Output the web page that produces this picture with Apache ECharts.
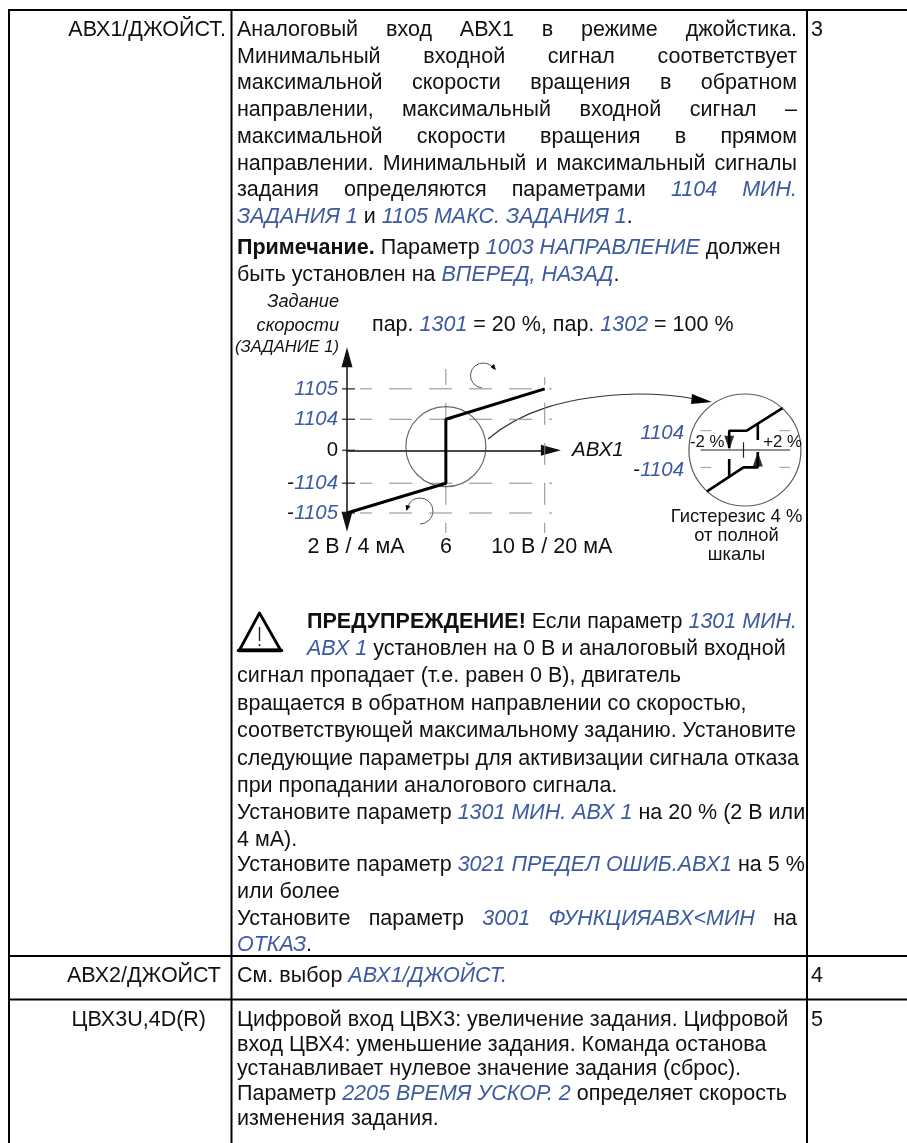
<!DOCTYPE html>
<html lang="ru">
<head>
<meta charset="UTF-8">
<title>АВХ1/ДЖОЙСТ.</title>
<script src="https://cdn.jsdelivr.net/npm/echarts@6/dist/echarts.min.js"></script>
<style>html,body{margin:0;padding:0;background:#fff}</style>
</head>
<body>
<div id="main" style="width:907px;height:1143px"></div>
<script>
// main diagram values
var levelValues = [99, 50, 0, -53, -101];
var levelLabels = ['{b|1105}', '{b|1104}', '0', '-{b|1104}', '-{b|1105}'];
var xTickValues = [2, 6, 10];
var xTickLabels = ['{a|2 В / 4 мА}', '6', '{c|10 В / 20 мА}'];
var refLine = [[2, -101], [6, -53], [6, 50], [10, 99]];
var guideX = [[2.53, 10.7]];
var guideY6 = [-133, 131];
var guideY10 = [-133, 118];
var zoomCircle = [[6, 5.8]];

// inset (hysteresis) values, x in %, y on the inset's own scale
var insetLabels = ['{b|1104}', '-{b|1104}'];
var insetLabelValues = [44, -52];
var upperBranch = [[5.5, 109], [0.45, 50], [-2, 50], [-2, 5]];
var lowerBranch = [[-5.15, -108], [0, -45], [2, -45], [2, -5]];
var downStub = [[-2, -23], [-2, -70]];
var upStub = [[2, 70], [2, 26]];
var insetAxis = [[-6, 0], [6.5, 0]];
var insetTick = [[0, 20], [0, -20]];
var insetGuides = [[[-6, 50], [-4.5, 50]], [[5, 50], [6.5, 50]], [[-6, -45], [-4.5, -45]], [[5, -45], [6.5, -45]]];
var insetArrowDown = [[-2, 19]];
var insetArrowUp = [[2, -23]];
var insetCircle = [[0.2, 0]];

// table text; _x_ is a blue italic reference, ^x^ is bold
var col1 = [
  ['АВХ1/ДЖОЙСТ.', 226, 30],
  ['АВХ2/ДЖОЙСТ', 221, 976],
  ['ЦВХ3U,4D(R)', 206, 1020]
];
var col3 = [['3', 30], ['4', 976], ['5', 1020]];
var bodyLines = [
  ['Аналоговый вход АВХ1 в режиме джойстика.', 30, 1],
  ['Минимальный входной сигнал соответствует', 57, 1],
  ['максимальной скорости вращения в обратном', 83, 1],
  ['направлении, максимальный входной сигнал –', 110, 1],
  ['максимальной скорости вращения в прямом', 137, 1],
  ['направлении. Минимальный и максимальный сигналы', 164, 1],
  ['задания определяются параметрами _1104 МИН._', 190, 1],
  ['_ЗАДАНИЯ 1_ и _1105 МАКС. ЗАДАНИЯ 1_.', 217, 0],
  ['^Примечание.^ Параметр _1003 НАПРАВЛЕНИЕ_ должен', 248, 0],
  ['быть установлен на _ВПЕРЕД, НАЗАД_.', 275, 0],
  ['сигнал пропадает (т.е. равен 0 В), двигатель', 676, 0],
  ['вращается в обратном направлении со скоростью,', 704, 0],
  ['соответствующей максимальному заданию. Установите', 731, 0],
  ['следующие параметры для активизации сигнала отказа', 759, 0],
  ['при пропадании аналогового сигнала.', 786, 0],
  ['Установите параметр _1301 МИН. АВХ 1_ на 20 % (2 В или', 813, 0],
  ['4 мА).', 840, 0],
  ['Установите параметр _3021 ПРЕДЕЛ ОШИБ.АВХ1_ на 5 %', 865, 0],
  ['или более', 892, 0],
  ['Установите параметр _3001 ФУНКЦИЯАВХ<МИН_ на', 919, 1],
  ['_ОТКАЗ_.', 945, 0],
  ['См. выбор _АВХ1/ДЖОЙСТ._', 976, 0],
  ['Цифровой вход ЦВХ3: увеличение задания. Цифровой', 1020, 0],
  ['вход ЦВХ4: уменьшение задания. Команда останова', 1045, 0],
  ['устанавливает нулевое значение задания (сброс).', 1069, 0],
  ['Параметр _2205 ВРЕМЯ УСКОР. 2_ определяет скорость', 1094, 0],
  ['изменения задания.', 1119, 0]
];
var warnLines = [
  ['^ПРЕДУПРЕЖДЕНИЕ!^ Если параметр _1301 МИН._', 622],
  ['_АВХ 1_ установлен на 0 В и аналоговый входной', 649]
];

var FAMILY = '"Liberation Sans", Arial, sans-serif';
var BLUE = '#3c5a9f';
var INK = '#111';
var SIZE = 21.5;
var ctx = document.createElement('canvas').getContext('2d');
var gfx = [];

function fontOf(kind, size) {
  var pre = kind === 'i' ? 'italic ' : kind === 'b' ? 'bold ' : '';
  return pre + size + 'px ' + FAMILY;
}
function addText(text, x, y, font, fill, align) {
  gfx.push({type: 'text', silent: true, z: 5, style: {
    text: text, x: x, y: y + 0.5, font: font, fill: fill || INK,
    textAlign: align || 'left', textVerticalAlign: 'middle'
  }});
}
// split the markup into words, then place them (stretched if right is given)
function addLine(str, x, y, right) {
  var kind = 'n', words = [], buf = '', glue = false;
  function flush() {
    if (buf) { words.push({t: buf, k: kind, glue: glue}); glue = true; buf = ''; }
  }
  for (var i = 0; i < str.length; i++) {
    var c = str[i];
    if (c === '_') { flush(); kind = kind === 'i' ? 'n' : 'i'; }
    else if (c === '^') { flush(); kind = kind === 'b' ? 'n' : 'b'; }
    else if (c === ' ') { flush(); glue = false; }
    else buf += c;
  }
  flush();
  var sum = 0, gaps = 0;
  words.forEach(function (w, i) {
    ctx.font = fontOf(w.k, SIZE);
    w.w = ctx.measureText(w.t).width;
    sum += w.w;
    if (i && !w.glue) gaps++;
  });
  ctx.font = fontOf('n', SIZE);
  var gap = right ? (right - x - sum) / gaps : ctx.measureText(' ').width;
  var px = x;
  words.forEach(function (w, i) {
    if (i && !w.glue) px += gap;
    addText(w.t, px, y, fontOf(w.k, SIZE), w.k === 'i' ? BLUE : INK);
    px += w.w;
  });
}
function rule(x1, y1, x2, y2) {
  gfx.push({type: 'line', silent: true, z: 1, shape: {x1: x1, y1: y1, x2: x2, y2: y2},
    style: {stroke: '#000', lineWidth: 2}});
}
function deg(a) { return a * Math.PI / 180; }

// table frame
rule(8, 10, 907, 10);
rule(8, 956, 907, 956);
rule(8, 999.5, 907, 999.5);
rule(9, 9, 9, 1143);
rule(231.5, 9, 231.5, 1143);
rule(807, 9, 807, 1143);

col1.forEach(function (r) { addText(r[0], r[1], r[2], fontOf('n', SIZE), INK, 'right'); });
col3.forEach(function (r) { addText(r[0], 811, r[1], fontOf('n', SIZE)); });
bodyLines.forEach(function (l) { addLine(l[0], 237, l[1], l[2] ? 797 : null); });
warnLines.forEach(function (l) { addLine(l[0], 307, l[1], null); });

// diagram captions
addText('Задание', 339, 301, fontOf('i', 18.2), INK, 'right');
addText('скорости', 339, 325, fontOf('i', 18.2), INK, 'right');
addText('(ЗАДАНИЕ 1)', 339, 347, fontOf('i', 16.6), INK, 'right');
addLine('пар. _1301_ = 20 %, пар. _1302_ = 100 %', 372, 325, null);
addText('АВХ1', 572, 450, fontOf('i', 20.5), INK);
addText('-2 %', 690, 442, fontOf('n', 16.8));
addText('+2 %', 802, 442, fontOf('n', 16.8), INK, 'right');
addText('Гистерезис 4 %', 736.5, 516, fontOf('n', 18.4), INK, 'center');
addText('от полной', 736.5, 535, fontOf('n', 18.4), INK, 'center');
addText('шкалы', 736.5, 554, fontOf('n', 18.4), INK, 'center');

// curved pointer and the two rotation arrows
gfx.push({type: 'bezierCurve', silent: true, z: 3,
  shape: {x1: 488, y1: 439, cpx1: 520, cpy1: 412, cpx2: 565, cpy2: 396, x2: 637, y2: 394},
  style: {fill: 'none', stroke: '#333', lineWidth: 1.2}});
gfx.push({type: 'bezierCurve', silent: true, z: 3,
  shape: {x1: 637, y1: 394, cpx1: 660, cpy1: 394, cpx2: 680, cpy2: 396, x2: 695, y2: 399},
  style: {fill: 'none', stroke: '#333', lineWidth: 1.2}});
gfx.push({type: 'polygon', silent: true, z: 3, shape: {points: [[712, 402], [692, 394], [691, 404]]}, style: {fill: '#000'}});
gfx.push({type: 'arc', silent: true, z: 3,
  shape: {cx: 483, cy: 375.5, r: 12.5, startAngle: deg(96), endAngle: deg(332), clockwise: true},
  style: {fill: 'none', stroke: '#555', lineWidth: 1}});
gfx.push({type: 'polygon', silent: true, z: 3, shape: {points: [[496, 370], [490.5, 367], [494, 364]]}, style: {fill: '#000'}});
gfx.push({type: 'arc', silent: true, z: 3,
  shape: {cx: 420, cy: 511, r: 13, startAngle: deg(90), endAngle: deg(-157), clockwise: false},
  style: {fill: 'none', stroke: '#555', lineWidth: 1}});
gfx.push({type: 'polygon', silent: true, z: 3, shape: {points: [[406.5, 511], [405.5, 505], [410.5, 506]]}, style: {fill: '#000'}});

// warning sign
gfx.push({type: 'polygon', silent: true, z: 3, shape: {points: [[259.5, 613], [239.5, 650], [280.5, 650]]},
  style: {fill: 'none', stroke: '#000', lineWidth: 2.8, lineJoin: 'round'}});
gfx.push({type: 'line', silent: true, z: 3, shape: {x1: 238.5, y1: 650.5, x2: 281.5, y2: 650.5}, style: {stroke: '#000', lineWidth: 3.6, lineCap: 'round'}});
gfx.push({type: 'line', silent: true, z: 3, shape: {x1: 259.5, y1: 627, x2: 259.5, y2: 641}, style: {stroke: '#222', lineWidth: 1.4}});
gfx.push({type: 'line', silent: true, z: 3, shape: {x1: 259.5, y1: 644, x2: 259.5, y2: 646}, style: {stroke: '#222', lineWidth: 1.6}});

function lineSeries(data, width, color, extra, inset) {
  var s = {type: 'line', data: data, symbol: 'none', clip: false, silent: true,
    lineStyle: {width: width, color: color}, z: 3};
  if (inset) { s.xAxisIndex = 2; s.yAxisIndex = 1; }
  if (extra) Object.keys(extra).forEach(function (k) { s.lineStyle[k] = extra[k]; });
  return s;
}
var DASH = {type: [23, 17], dashOffset: 11};
var VDASH = {type: [22, 18], dashOffset: 12};
var series = [];
levelValues.forEach(function (v) {
  if (v !== 0) series.push(lineSeries([[guideX[0][0], v], [guideX[0][1], v]], 1, '#8a8a8a', DASH));
});
series.push(lineSeries([[6, guideY6[0]], [6, guideY6[1]]], 1, '#8a8a8a', VDASH));
series.push(lineSeries([[10, guideY10[0]], [10, guideY10[1]]], 1, '#8a8a8a', VDASH));
series.push({type: 'scatter', data: levelValues.map(function (v) { return [2.06, v]; }), symbol: 'rect',
  symbolSize: [13, 1.5], clip: false, silent: true, itemStyle: {color: '#222'}, z: 4});
series.push({type: 'scatter', data: zoomCircle, symbolSize: 80, clip: false, silent: true,
  itemStyle: {color: 'transparent', borderColor: '#444', borderWidth: 1.2}, z: 4});
series.push(lineSeries(refLine, 3, '#000'));
series[series.length - 1].z = 5;

// inset
insetGuides.forEach(function (g) { series.push(lineSeries(g, 1, '#9a9a9a', null, true)); });
series.push(lineSeries(insetAxis, 1.2, '#222', null, true));
series.push(lineSeries(insetTick, 1.2, '#222', null, true));
series.push(lineSeries(upperBranch, 2.6, '#000', null, true));
series.push(lineSeries(lowerBranch, 2.6, '#000', null, true));
series.push(lineSeries(downStub, 2.6, '#000', null, true));
series.push(lineSeries(upStub, 2.6, '#000', null, true));
series.push({type: 'scatter', xAxisIndex: 2, yAxisIndex: 1, data: insetArrowDown, symbol: 'triangle', symbolRotate: 180,
  symbolSize: [10, 14], clip: false, silent: true, itemStyle: {color: '#000'}, z: 6});
series.push({type: 'scatter', xAxisIndex: 2, yAxisIndex: 1, data: insetArrowUp, symbol: 'triangle',
  symbolSize: [10, 15], clip: false, silent: true, itemStyle: {color: '#000'}, z: 6});
series.push({type: 'scatter', xAxisIndex: 2, yAxisIndex: 1, data: insetCircle, symbolSize: 112, clip: false, silent: true,
  itemStyle: {color: 'transparent', borderColor: '#333', borderWidth: 1.2}, z: 4});

var labelRich = {b: {color: BLUE, fontStyle: 'italic', fontFamily: FAMILY, fontSize: 20.4}};
var option = {
  animation: false,
  backgroundColor: '#fff',
  grid: [
    {left: 347, top: 357.2, width: 203.9, height: 164.5},
    {left: 688, top: 395, width: 113, height: 110}
  ],
  xAxis: [
    {gridIndex: 0, type: 'value', position: 'bottom', min: 2, max: 10.25, splitLine: {show: false},
      axisLabel: {show: false}, axisTick: {show: false},
      axisLine: {onZero: true, symbol: ['none', 'triangle'], symbolSize: [11, 20], lineStyle: {color: '#111', width: 1.5}}},
    {gridIndex: 0, type: 'value', position: 'bottom', min: 2, max: 10.25, splitLine: {show: false},
      axisLine: {show: false, onZero: false}, axisTick: {show: false},
      axisLabel: {show: true, customValues: xTickValues, margin: 14, color: INK, fontFamily: FAMILY, fontSize: SIZE,
        showMinLabel: true, showMaxLabel: true,
        formatter: function (v) { return xTickLabels[xTickValues.indexOf(v)]; },
        rich: {
          a: {padding: [0, 0, 0, 18], color: INK, fontFamily: FAMILY, fontSize: SIZE},
          c: {padding: [0, 0, 0, 14], color: INK, fontFamily: FAMILY, fontSize: SIZE}
        }}},
    {gridIndex: 1, type: 'value', show: false, min: -7.76, max: 8.04}
  ],
  yAxis: [
    {gridIndex: 0, type: 'value', min: -115, max: 150, splitLine: {show: false}, axisTick: {show: false},
      axisLine: {show: true, onZero: false, symbol: ['triangle', 'triangle'], symbolSize: [11, 20], lineStyle: {color: '#111', width: 1.5}},
      axisLabel: {customValues: levelValues, margin: 9, color: INK, fontFamily: FAMILY, fontSize: 20.4,
        showMinLabel: true, showMaxLabel: true,
        formatter: function (v) { return levelLabels[levelValues.indexOf(v)]; }, rich: labelRich}},
    {gridIndex: 1, type: 'value', min: -142.5, max: 142.5, splitLine: {show: false}, axisTick: {show: false},
      axisLine: {show: false},
      axisLabel: {customValues: insetLabelValues, margin: 4, color: INK, fontFamily: FAMILY, fontSize: 20.4,
        formatter: function (v) { return insetLabels[insetLabelValues.indexOf(v)]; }, rich: labelRich}}
  ],
  series: series,
  graphic: gfx
};
var myChart = echarts.init(document.getElementById('main'), null, {renderer: 'canvas'});
myChart.setOption(option);
</script>
</body>
</html>
